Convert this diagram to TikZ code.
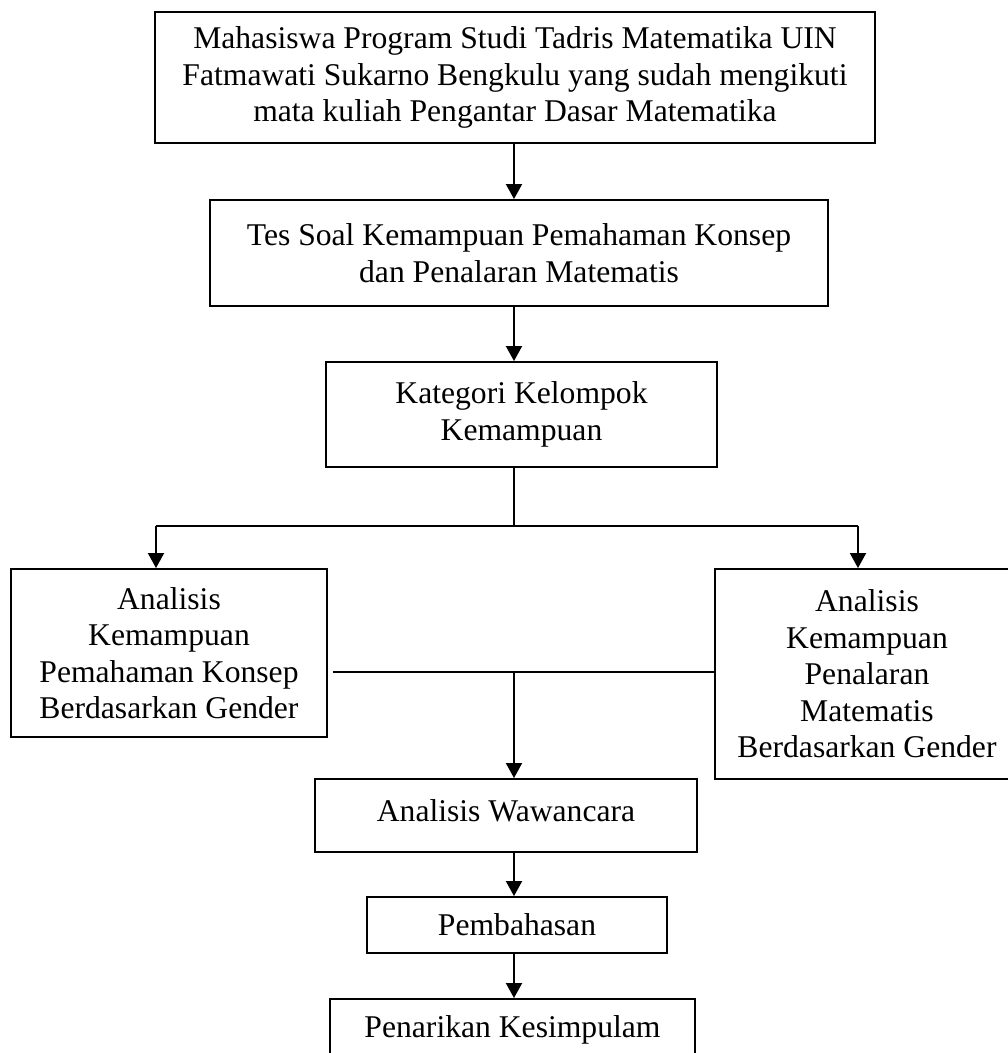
\documentclass[tikz,border=0pt]{standalone}
\usepackage{fontspec}
\setmainfont{Liberation Serif}
\usetikzlibrary{arrows.meta}

\begin{document}
\begin{tikzpicture}[
    every node/.style={font=\fontsize{18}{20.8}\selectfont},
    stepbox/.style={draw=black, line width=1.1pt, rectangle, align=center, inner sep=0pt},
    link/.style={draw=black, line width=1.1pt},
    flow/.style={link, -{Triangle[length=3mm, width=3.2mm]}}
]
\useasboundingbox (0,0) rectangle (20.16,-21.06);
\clip (0,0) rectangle (20.16,-21.06);

\node[stepbox, minimum width=14.4cm, minimum height=2.62cm] (mhs) at (10.30,-1.55)
  {Mahasiswa Program Studi Tadris Matematika UIN\\Fatmawati Sukarno Bengkulu yang sudah mengikuti\\mata kuliah Pengantar Dasar Matematika};
\node[stepbox, minimum width=12.36cm, minimum height=2.12cm] (tes) at (10.38,-5.06)
  {Tes Soal Kemampuan Pemahaman Konsep\\dan Penalaran Matematis};
\node[stepbox, minimum width=7.82cm, minimum height=2.10cm] (kat) at (10.43,-8.29)
  {Kategori Kelompok\\Kemampuan};
\node[stepbox, minimum width=6.32cm, minimum height=3.36cm] (kon) at (3.38,-13.06)
  {Analisis\\Kemampuan\\Pemahaman Konsep\\Berdasarkan Gender};
\node[stepbox, minimum width=6.08cm, minimum height=4.20cm] (nal) at (17.34,-13.48)
  {Analisis\\Kemampuan\\Penalaran\\Matematis\\Berdasarkan Gender};
\node[stepbox, minimum width=7.64cm, minimum height=1.46cm, text depth=0.2cm] (waw) at (10.12,-16.31)
  {Analisis Wawancara};
\node[stepbox, minimum width=6.00cm, minimum height=1.12cm] (bhs) at (10.34,-18.50)
  {Pembahasan};
\node[stepbox, minimum width=7.30cm, minimum height=1.24cm] (kes) at (10.25,-20.60)
  {Penarikan Kesimpulam};

% vertical axis and split points
\coordinate (axis) at (10.28,0);
\coordinate (splitL) at (3.12,-10.52);
\coordinate (splitR) at (17.16,-10.52);
\coordinate (merge) at (10.28,-13.44);

\foreach \a/\b in {mhs/tes,tes/kat,waw/bhs,bhs/kes}
  \draw[flow] (axis |- \a.south) -- (axis |- \b.north);

\draw[link] (axis |- kat.south) -- (axis |- splitL);
\draw[link] (splitL) -- (splitR);
\draw[flow] (splitL) -- (splitL |- kon.north);
\draw[flow] (splitR) -- (splitR |- nal.north);

\draw[link] ([xshift=1mm]kon.east |- merge) -- (nal.west |- merge);
\draw[flow] (merge) -- (merge |- waw.north);
\end{tikzpicture}
\end{document}
